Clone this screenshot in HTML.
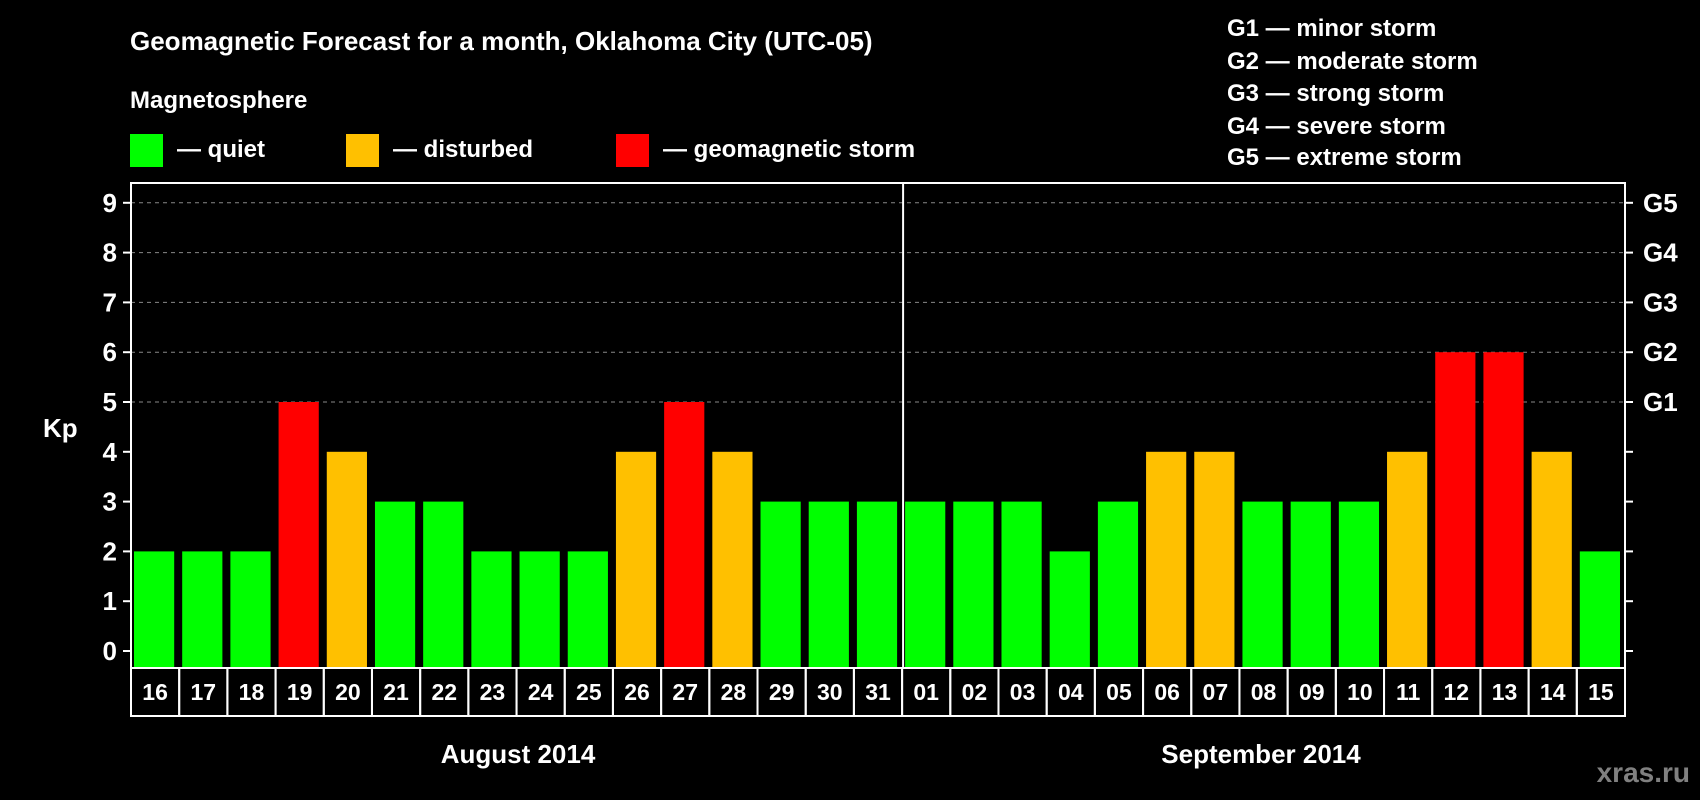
<!DOCTYPE html>
<html><head><meta charset="utf-8"><style>
body{margin:0;background:#000;}
svg{display:block;font-family:"Liberation Sans",sans-serif;font-weight:bold;}
</style></head><body>
<svg width="1700" height="800" viewBox="0 0 1700 800">
<text x="130" y="50" font-size="26" fill="#fff">Geomagnetic Forecast for a month, Oklahoma City (UTC-05)</text>
<text x="130" y="108" font-size="24" fill="#fff">Magnetosphere</text>
<g>
<rect x="130" y="134" width="33" height="33" fill="#00ff00"/>
<text x="177" y="157" font-size="24" fill="#fff">— quiet</text>
<rect x="346" y="134" width="33" height="33" fill="#ffc000"/>
<text x="393" y="157" font-size="24" fill="#fff">— disturbed</text>
<rect x="616" y="134" width="33" height="33" fill="#ff0000"/>
<text x="663" y="157" font-size="24" fill="#fff">— geomagnetic storm</text>
</g>
<g font-size="24" fill="#fff">
<text x="1227" y="36">G1 — minor storm</text>
<text x="1227" y="69">G2 — moderate storm</text>
<text x="1227" y="101">G3 — strong storm</text>
<text x="1227" y="134">G4 — severe storm</text>
<text x="1227" y="165">G5 — extreme storm</text>
</g>
<text x="43" y="437" font-size="26" fill="#fff">Kp</text>
<g id="plot"></g>
<text x="518" y="763" font-size="26" fill="#fff" text-anchor="middle">August 2014</text>
<text x="1261" y="763" font-size="26" fill="#fff" text-anchor="middle">September 2014</text>
<text x="1690" y="782" font-size="28" fill="#808080" text-anchor="end">xras.ru</text>
</svg>
<script>
const days=["16","17","18","19","20","21","22","23","24","25","26","27","28","29","30","31","01","02","03","04","05","06","07","08","09","10","11","12","13","14","15"].slice(0,31);
const kp=[2,2,2,5,4,3,3,2,2,2,4,5,4,3,3,3,3,3,3,2,3,4,4,3,3,3,4,6,6,4,2];
const yTicks=[0,1,2,3,4,5,6,7,8,9];
const gLabels=["","","","","","G1","G2","G3","G4","G5"];
const NS="http://www.w3.org/2000/svg";
const g=document.getElementById('plot');
const L=131,R=1625,T=183,B=668,Y0=651,U=49.8;
const n=days.length;
const cw=(R-L)/n;
const y=v=>Y0-v*U;
const x=i=>L+i*cw;
function mk(t,a,p){const e=document.createElementNS(NS,t);for(const k in a)e.setAttribute(k,a[k]);(p||g).appendChild(e);return e;}
function col(v){return v>=5?"#ff0000":v>=4?"#ffc000":"#00ff00";}
yTicks.forEach(v=>{
 if(v>=5){const l=mk('line',{x1:L,x2:R,y1:y(v),y2:y(v),stroke:"#888","stroke-width":1,"stroke-dasharray":"4,4"});
 }
 const t1=mk('line',{x1:L-8,x2:L,y1:y(v),y2:y(v),stroke:"#fff","stroke-width":2});
 
 const t2=mk('line',{x1:R,x2:R+8,y1:y(v),y2:y(v),stroke:"#fff","stroke-width":2});
 
 const tl=mk('text',{x:L-14,y:y(v)+9,"font-size":26,fill:"#fff","text-anchor":"end"});tl.textContent=v;
 
 if(gLabels[v]){const gl=mk('text',{x:R+18,y:y(v)+9,"font-size":26,fill:"#fff"});gl.textContent=gLabels[v];
 }
});
kp.forEach((v,i)=>{
 const b=mk('rect',{x:x(i)+3,y:y(v),width:cw-8,height:Y0-y(v)+17,fill:col(v)});
 
 const c=mk('rect',{x:x(i),y:B,width:cw,height:48,fill:"none",stroke:"#fff","stroke-width":2});
 
 const t=mk('text',{x:x(i)+cw/2,y:B+32,"font-size":23,fill:"#fff","text-anchor":"middle"});t.textContent=days[i];
 
});
const sep=days.indexOf("01");
const s=mk('line',{x1:x(sep)+1,x2:x(sep)+1,y1:T,y2:B,stroke:"#fff","stroke-width":2});

const f=mk('rect',{x:L,y:T,width:R-L,height:B-T,fill:"none",stroke:"#fff","stroke-width":2});

</script>
</body></html>
